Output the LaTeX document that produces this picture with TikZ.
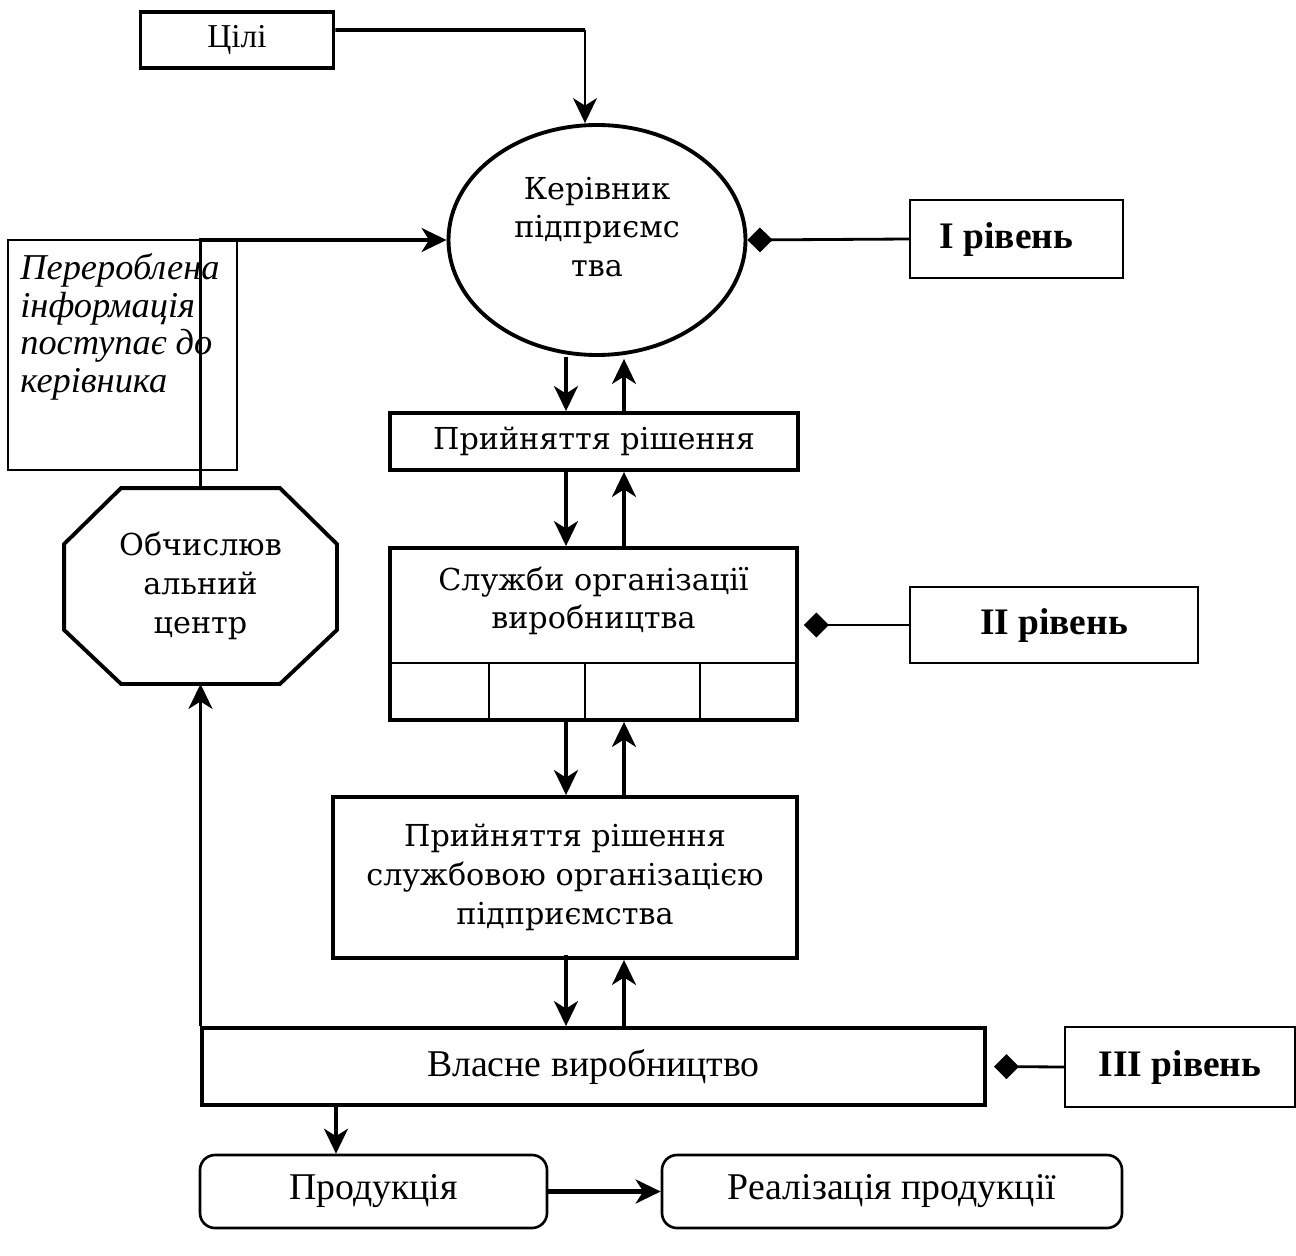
\documentclass[tikz,border=0pt]{standalone}
\usepackage{fontspec}
\setmainfont{Liberation Serif}
\newfontfamily\bookfont{DejaVu Serif}
\usepackage{tikz}
\usetikzlibrary{calc,shapes.geometric,arrows.meta}

\tikzset{
  box/.style={draw, line width=2.2pt, align=center, inner sep=2pt, font=\bookfont\fontsize{17.2}{22}\selectfont},
  btext/.style={align=center, inner sep=0pt, font=\bookfont\fontsize{17.2}{22}\selectfont},
  tbox/.style={draw, line width=2.2pt, align=center, font=\fontsize{21.5}{23}\selectfont},
  lvlbox/.style={draw, line width=1.3pt, font=\bfseries\fontsize{21.3}{23}\selectfont},
  rbox/.style={draw, line width=1.5pt, rounded corners=3mm, font=\fontsize{21.5}{23}\selectfont},
  arr/.style={line width=1.8pt, -{Stealth[length=5mm, width=4.8mm, inset=1.5mm]}},
  lvlline/.style={line width=1.6pt, -{Diamond[length=5mm, width=5mm]}}
}

\begin{document}
\begin{tikzpicture}[x=0.2mm, y=-0.2mm]
            \useasboundingbox (0,0) rectangle (1296,1256);
            \coordinate (dn) at (566,0);
            \coordinate (up) at (624,0);

            \node[tbox, font=\fontsize{19}{21}\selectfont, minimum width=193*0.2mm, minimum height=56*0.2mm] (goals) at (237,40) {Цілі};
            \node[box, ellipse, minimum width=297*0.2mm, minimum height=230*0.2mm] (head) at (597,240) {};
            \node[btext] (headtext) at (597,227) {Керівник\\підприємс\\тва};
            \node[draw, line width=1.1pt, minimum width=229*0.2mm, minimum height=230*0.2mm] (info) at (122.5,355) {};
            \node[anchor=north west, inner sep=0pt, align=left, font=\itshape\fontsize{20.7}{21.5}\selectfont] (infotext) at (20,253) {Перероблена\\інформація\\поступає до\\керівника};
            \node[box, draw=none, minimum width=269*0.2mm, minimum height=192*0.2mm] (calc) at (200.5,586) {Обчислюв\\альний\\центр};
            \draw[line width=2.2pt] ($(calc.north west)+(57,0)$) -- ($(calc.north east)+(-57,0)$) -- ($(calc.north east)+(0,56)$)
              -- ($(calc.south east)+(0,-54)$) -- ($(calc.south east)+(-57,0)$) -- ($(calc.south west)+(57,0)$)
              -- ($(calc.south west)+(0,-54)$) -- ($(calc.north west)+(0,56)$) -- cycle;

            \node[box, minimum width=408*0.2mm, minimum height=57*0.2mm] (dec1) at (594,441.5) {Прийняття рішення};
            \node[box, minimum width=407*0.2mm, minimum height=172*0.2mm] (serv) at (593.5,634) {};
            \node[btext] (servtext) at (593.5,601) {Служби організації\\виробництва};
            \draw[line width=1.1pt] (serv.west |- 0,663) -- (serv.east |- 0,663);
            \foreach \x in {489,585,700}
              \draw[line width=1.1pt] (\x,663) -- (\x,720);
            \node[box, minimum width=464*0.2mm, minimum height=161*0.2mm] (dec2) at (565,877.5) {Прийняття рішення\\службовою організацією\\підприємства};
            \node[tbox, minimum width=783*0.2mm, minimum height=77*0.2mm] (prod) at (593.5,1066.5) {Власне виробництво};

            \node[rbox, minimum width=347*0.2mm, minimum height=73*0.2mm] (goods) at (373.5,1191.5) {Продукція};
            \node[rbox, minimum width=460*0.2mm, minimum height=73*0.2mm] (sales) at (892,1191.5) {Реалізація продукції};

            \node[lvlbox, minimum width=213*0.2mm, minimum height=78*0.2mm] (lvl1) at (1016.5,239) {I рівень\hspace*{4mm}};
            \node[lvlbox, minimum width=288*0.2mm, minimum height=76*0.2mm] (lvl2) at (1054,625) {II рівень};
            \node[lvlbox, minimum width=230*0.2mm, minimum height=80*0.2mm] (lvl3) at (1180,1067) {III рівень};

            \coordinate (gcorner) at (585,30);
            \coordinate (out) at (336,0);
            \draw[line width=2.2pt] ([yshift=2mm]goals.east) -- (gcorner);
            \draw[arr, line width=1.1pt] (gcorner) -- (gcorner |- head.north);
            \draw[arr] (calc.north) |- (head.west);
            \draw[arr] (prod.north west) -- (prod.north west -| calc.south) -- (calc.south);

            \draw[arr] (head.south -| dn) -- (dec1.north -| dn);
            \draw[arr] (dec1.north -| up) -- ([yshift=-0.4mm]head.south -| up);
            \draw[arr] (dec1.south -| dn) -- (serv.north -| dn);
            \draw[arr] (serv.north -| up) -- (dec1.south -| up);
            \draw[arr] (serv.south -| dn) -- (dec2.north -| dn);
            \draw[arr] (dec2.north -| up) -- (serv.south -| up);
            \draw[arr] ([yshift=1mm]dec2.south -| dn) -- (prod.north -| dn);
            \draw[arr] (prod.north -| up) -- (dec2.south -| up);

            \draw[arr] (prod.south -| out) -- (goods.north -| out);
            \draw[arr, line width=2.4pt] (goods.east) -- (sales.west);

            \draw[lvlline] (lvl1.west) -- (head.east);
            \draw[lvlline, shorten >=1mm] (lvl2.west) -- (lvl2.west -| serv.east);
            \draw[lvlline, shorten >=1.4mm] (lvl3.west) -- (prod.east);
        \end{tikzpicture}
\end{document}
